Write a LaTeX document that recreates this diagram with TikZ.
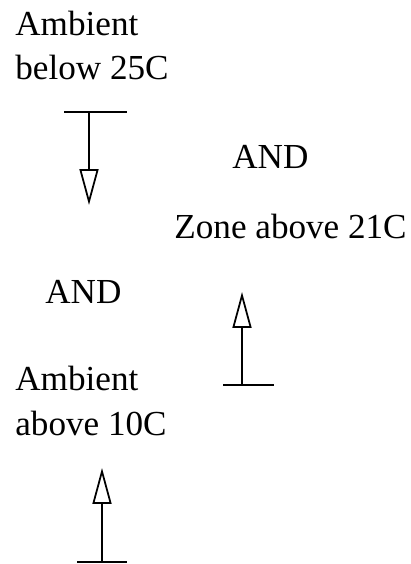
\documentclass[tikz,border=0pt]{standalone}
\usepackage{fontspec}
\setmainfont{Liberation Serif}
\usetikzlibrary{arrows.meta}

\begin{document}
\begin{tikzpicture}[x = 0.02cm, y = -0.02cm]
    % Define styles
    \tikzset{
        condition/.style = {inner sep = 0pt, anchor = base west, align = left,
                            font = \fontsize{20}{25.5}\selectfont},
        trigger/.style   = {line width = 1pt, -{Triangle[open, length = 0.72cm, width = 0.38cm]}},
        stopbar/.style   = {line width = 1pt}
    }
    \useasboundingbox (0,0) rectangle (411,564);

    %Labels (base of the last line)
    \node[condition] (ambBelow) at (15,80)  {Ambient\\below 25C};
    \node[condition] (andTop)   at (232,169) {AND};
    \node[condition, anchor = base east] (zoneAbove) at (407,238) {Zone above 21C};
    \node[condition] (andLeft)  at (45,303)  {AND};
    \node[condition] (ambAbove) at (15,435)  {Ambient\\above 10C};

    %First trigger (downwards)
    \coordinate (barA-l) at (64,112);
    \coordinate (barA-r) at (127,112);
    \coordinate (stemA)  at (89,112);
    \coordinate (tipA)   at (89,205);
    \draw[stopbar] (barA-l) -- (barA-r);
    \draw[trigger] (stemA) -- (tipA);

    %Second trigger (upwards, right)
    \coordinate (barB-l) at (223,385);
    \coordinate (barB-r) at (274,385);
    \coordinate (stemB)  at (242,385);
    \coordinate (tipB)   at (242,292);
    \draw[stopbar] (barB-l) -- (barB-r);
    \draw[trigger] (stemB) -- (tipB);

    %Third trigger (upwards, bottom)
    \coordinate (barC-l) at (77,562);
    \coordinate (barC-r) at (127,562);
    \coordinate (stemC)  at (102,562);
    \coordinate (tipC)   at (102,468);
    \draw[stopbar] (barC-l) -- (barC-r);
    \draw[trigger] (stemC) -- (tipC);

\end{tikzpicture}
\end{document}
